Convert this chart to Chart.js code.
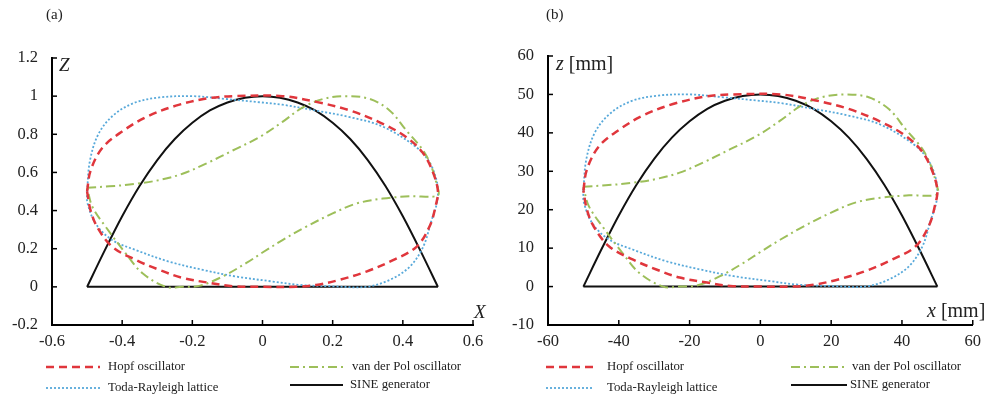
<!DOCTYPE html>
<html>
<head>
<meta charset="utf-8">
<script src="https://cdn.jsdelivr.net/npm/chart.js@4.4.0/dist/chart.umd.min.js"></script>
<style>
  html, body { margin: 0; padding: 0; background: #fff; }
  #wrap { position: relative; width: 988px; height: 399px; }
  canvas { position: absolute; top: 0; }
  #ca { left: 0; }
  #cb { left: 494px; }
</style>
</head>
<body>
<div id="wrap">
  <canvas id="ca" width="494" height="399"></canvas>
  <canvas id="cb" width="494" height="399"></canvas>
</div>
<script>
// ---- panel (a): normalised X / Z ----
var hopfX_a = [-0.5,-0.49,-0.456,-0.40,-0.332,-0.247,-0.151,-0.075,0.057,0.153,0.249,0.343,0.41,0.458,0.487,0.5,0.493,0.477,0.439,0.372,0.296,0.22,0.153,0.096,0,-0.085,-0.151,-0.228,-0.294,-0.361,-0.428,-0.47,-0.49,-0.5];
var hopfZ_a = [0.5,0.61,0.73,0.815,0.89,0.95,0.99,1.0,1.0,0.97,0.925,0.855,0.785,0.70,0.595,0.5,0.42,0.32,0.21,0.14,0.08,0.037,0.01,0,0,0.003,0.021,0.047,0.089,0.141,0.21,0.31,0.40,0.5];

var vdpX_a = [-0.5,-0.437,-0.361,-0.294,-0.228,-0.161,-0.085,-0.009,0.057,0.114,0.172,0.239,0.306,0.363,0.41,0.458,0.482,0.496,0.5,0.42,0.343,0.268,0.2,0.124,0.057,0,-0.047,-0.114,-0.18,-0.23,-0.275,-0.342,-0.39,-0.447,-0.485,-0.5];
var vdpZ_a = [0.52,0.527,0.54,0.56,0.593,0.646,0.715,0.785,0.865,0.94,0.985,1.0,0.985,0.924,0.82,0.715,0.628,0.54,0.48,0.475,0.463,0.437,0.385,0.315,0.245,0.18,0.124,0.054,0.005,0,0,0.071,0.176,0.315,0.42,0.52];

var todaX_a = [-0.5,-0.492,-0.468,-0.425,-0.365,-0.294,-0.2,-0.104,-0.009,0.057,0.153,0.249,0.343,0.44,0.477,0.496,0.5,0.496,0.482,0.458,0.42,0.363,0.296,0.2,0.106,0.029,-0.075,-0.17,-0.266,-0.361,-0.428,-0.475,-0.499,-0.5];
var todaZ_a = [0.5,0.66,0.80,0.9,0.965,0.993,1.0,0.985,0.968,0.955,0.924,0.89,0.84,0.73,0.65,0.56,0.49,0.43,0.35,0.21,0.106,0.037,0,0.003,0.01,0.028,0.054,0.089,0.132,0.193,0.245,0.33,0.44,0.5];

var sineX_a = [-0.5,-0.45,-0.4,-0.35,-0.3,-0.25,-0.2,-0.15,-0.1,-0.05,0,0.05,0.1,0.15,0.2,0.25,0.3,0.35,0.4,0.45,0.5];
var sineZ_a = [0,0.19,0.37,0.53,0.665,0.775,0.86,0.925,0.967,0.992,1,0.992,0.967,0.925,0.86,0.775,0.665,0.53,0.37,0.19,0];
var baseX_a = [-0.5,0.5];
var baseZ_a = [0,0];

// ---- panel (b): x / z in mm ----
var hopfX_b = [-50,-49,-45.6,-40,-33.2,-24.7,-15.1,-7.5,5.7,15.3,24.9,34.3,41,45.8,48.7,50,49.3,47.7,43.9,37.2,29.6,22,15.3,9.6,0,-8.5,-15.1,-22.8,-29.4,-36.1,-42.8,-47,-49,-50];
var hopfZ_b = [25,30.5,36.5,40.75,44.5,47.5,49.5,50,50,48.5,46.25,42.75,39.25,35,29.75,25,21,16,10.5,7,4,1.85,0.5,0,0,0.15,1.05,2.35,4.45,7.05,10.5,15.5,20,25];

var vdpX_b = [-50,-43.7,-36.1,-29.4,-22.8,-16.1,-8.5,-0.9,5.7,11.4,17.2,23.9,30.6,36.3,41,45.8,48.2,49.6,50,42,34.3,26.8,20,12.4,5.7,0,-4.7,-11.4,-18,-23,-27.5,-34.2,-39,-44.7,-48.5,-50];
var vdpZ_b = [26,26.35,27,28,29.65,32.3,35.75,39.25,43.25,47,49.25,50,49.25,46.2,41,35.75,31.4,27,24,23.75,23.15,21.85,19.25,15.75,12.25,9,6.2,2.7,0.25,0,0,3.55,8.8,15.75,21,26];

var todaX_b = [-50,-49.2,-46.8,-42.5,-36.5,-29.4,-20,-10.4,-0.9,5.7,15.3,24.9,34.3,44,47.7,49.6,50,49.6,48.2,45.8,42,36.3,29.6,20,10.6,2.9,-7.5,-17,-26.6,-36.1,-42.8,-47.5,-49.9,-50];
var todaZ_b = [25,33,40,45,48.25,49.65,50,49.25,48.4,47.75,46.2,44.5,42,36.5,32.5,28,24.5,21.5,17.5,10.5,5.3,1.85,0,0.15,0.5,1.4,2.7,4.45,6.6,9.65,12.25,16.5,22,25];

var sineX_b = [-50,-45,-40,-35,-30,-25,-20,-15,-10,-5,0,5,10,15,20,25,30,35,40,45,50];
var sineZ_b = [0,9.5,18.5,26.5,33.25,38.75,43,46.25,48.35,49.6,50,49.6,48.35,46.25,43,38.75,33.25,26.5,18.5,9.5,0];
var baseX_b = [-50,50];
var baseZ_b = [0,0];

var seriesNames = ['Hopf oscillator', 'van der Pol oscillator', 'Toda-Rayleigh lattice', 'SINE generator'];

var RED = '#e0363c';
var GREEN = '#9dbf5a';
var BLUE = '#58a9da';
var BLACK = '#111';
var SERIF = '"Liberation Serif", "Times New Roman", serif';

function pts(xs, zs) {
  return xs.map(function (x, i) { return { x: x, y: zs[i] }; });
}

function line(data, color, dash, width, tension) {
  return {
    data: data,
    showLine: true,
    borderColor: color,
    borderWidth: width,
    borderDash: dash,
    tension: tension,
    pointRadius: 0,
    fill: false
  };
}

// little tick marks pointing into the plot, like the original
var inwardTicks = {
  id: 'inwardTicks',
  afterDraw: function (chart) {
    var ctx = chart.ctx, area = chart.chartArea;
    var sx = chart.scales.x, sy = chart.scales.y;
    ctx.save();
    ctx.strokeStyle = '#000';
    ctx.lineWidth = 1.5;
    sx.ticks.forEach(function (t) {
      var px = sx.getPixelForValue(t.value);
      ctx.beginPath(); ctx.moveTo(px, area.bottom); ctx.lineTo(px, area.bottom - 5); ctx.stroke();
    });
    sy.ticks.forEach(function (t) {
      var py = sy.getPixelForValue(t.value);
      ctx.beginPath(); ctx.moveTo(area.left, py); ctx.lineTo(area.left + 5, py); ctx.stroke();
    });
    ctx.restore();
  }
};

// panel letter, axis names and the 2x2 legend
var decorations = {
  id: 'decorations',
  afterDraw: function (chart) {
    var o = chart.options.plugins.decorations;
    var ctx = chart.ctx;
    ctx.save();
    ctx.fillStyle = '#222';
    ctx.textBaseline = 'middle';

    ctx.font = '15px ' + SERIF;
    ctx.fillText(o.panel, o.panelPos[0], o.panelPos[1]);

    o.titles.forEach(function (t) {
      var x = t.x;
      ctx.font = 'italic ' + o.titleSize + 'px ' + SERIF;
      ctx.fillText(t.v, x, t.y);
      x += ctx.measureText(t.v).width;
      if (t.unit) {
        ctx.font = o.titleSize + 'px ' + SERIF;
        ctx.fillText(t.unit, x + 5, t.y);
      }
    });

    o.legend.forEach(function (it) {
      ctx.beginPath();
      ctx.strokeStyle = it.color;
      ctx.lineWidth = it.width;
      ctx.setLineDash(it.dash);
      ctx.moveTo(it.x0, it.y);
      ctx.lineTo(it.x1, it.y);
      ctx.stroke();
      ctx.setLineDash([]);
      ctx.font = '12.8px ' + SERIF;
      ctx.fillStyle = '#222';
      ctx.fillText(it.label, it.tx, it.y);
    });
    ctx.restore();
  }
};

var DASH_RED = [8, 5];
var DASH_GREEN = [9, 4, 2, 4];
var DASH_BLUE = [2, 2];

function makeChart(id, sets, axes, deco) {
  var datasets = [
    line(sets.hopf, RED, DASH_RED, 2.5, 0.35),
    line(sets.vdp, GREEN, DASH_GREEN, 2, 0.35),
    line(sets.toda, BLUE, DASH_BLUE, 1.8, 0.35),
    line(sets.sine, BLACK, [], 2, 0.3),
    line(sets.base, BLACK, [], 2, 0)
  ];
  return new Chart(document.getElementById(id), {
    type: 'scatter',
    data: { datasets: datasets },
    plugins: [inwardTicks, decorations],
    options: {
      responsive: false,
      animation: false,
      layout: { padding: { left: 0, top: axes.top, right: axes.right, bottom: 0 } },
      scales: {
        x: {
          type: 'linear',
          min: axes.xMin, max: axes.xMax,
          ticks: {
            stepSize: axes.xStep,
            color: '#222',
            padding: 7,
            font: { family: SERIF, size: 16.5 },
            callback: function (v) { return String(Math.round(v * 10) / 10); }
          },
          grid: { display: false, drawTicks: false },
          border: { display: true, color: '#000', width: 2 },
          afterFit: function (s) { s.height = 74; }
        },
        y: {
          type: 'linear',
          min: axes.yMin, max: axes.yMax,
          ticks: {
            stepSize: axes.yStep,
            color: '#222',
            padding: 14,
            font: { family: SERIF, size: 16.5 },
            callback: function (v) { return String(Math.round(v * 10) / 10); }
          },
          grid: { display: false, drawTicks: false },
          border: { display: true, color: '#000', width: 2 },
          afterFit: function (s) { s.width = axes.left; }
        }
      },
      plugins: {
        legend: { display: false },
        tooltip: { enabled: false },
        decorations: deco
      }
    }
  });
}

function legendItems(c) {
  return [
    { label: seriesNames[0], color: RED, dash: DASH_RED, width: 2.5, x0: c[0], x1: c[1], tx: c[2], y: 367 },
    { label: seriesNames[1], color: GREEN, dash: DASH_GREEN, width: 2, x0: c[3], x1: c[4], tx: c[5], y: 367 },
    { label: seriesNames[2], color: BLUE, dash: DASH_BLUE, width: 1.8, x0: c[0], x1: c[1], tx: c[2], y: 388 },
    { label: seriesNames[3], color: BLACK, dash: [], width: 2, x0: c[3], x1: c[4], tx: c[5] - 2, y: 385 }
  ];
}

makeChart('ca',
  {
    hopf: pts(hopfX_a, hopfZ_a),
    vdp: pts(vdpX_a, vdpZ_a),
    toda: pts(todaX_a, todaZ_a),
    sine: pts(sineX_a, sineZ_a),
    base: pts(baseX_a, baseZ_a)
  },
  { xMin: -0.6, xMax: 0.6, xStep: 0.2, yMin: -0.2, yMax: 1.2, yStep: 0.2, top: 58, right: 21, left: 52 },
  {
    panel: '(a)', panelPos: [46, 15], titleSize: 19,
    titles: [ { v: 'Z', x: 59, y: 66 }, { v: 'X', x: 474, y: 313 } ],
    legend: legendItems([46, 100, 108, 290, 343, 352])
  }
);

makeChart('cb',
  {
    hopf: pts(hopfX_b, hopfZ_b),
    vdp: pts(vdpX_b, vdpZ_b),
    toda: pts(todaX_b, todaZ_b),
    sine: pts(sineX_b, sineZ_b),
    base: pts(baseX_b, baseZ_b)
  },
  { xMin: -60, xMax: 60, xStep: 20, yMin: -10, yMax: 60, yStep: 10, top: 56, right: 14, left: 54 },
  {
    panel: '(b)', panelPos: [52, 15], titleSize: 20,
    titles: [ { v: 'z', x: 62, y: 65, unit: '[mm]' }, { v: 'x', x: 433, y: 312, unit: '[mm]' } ],
    legend: legendItems([52, 100, 113, 297, 353, 358])
  }
);
</script>
</body>
</html>
